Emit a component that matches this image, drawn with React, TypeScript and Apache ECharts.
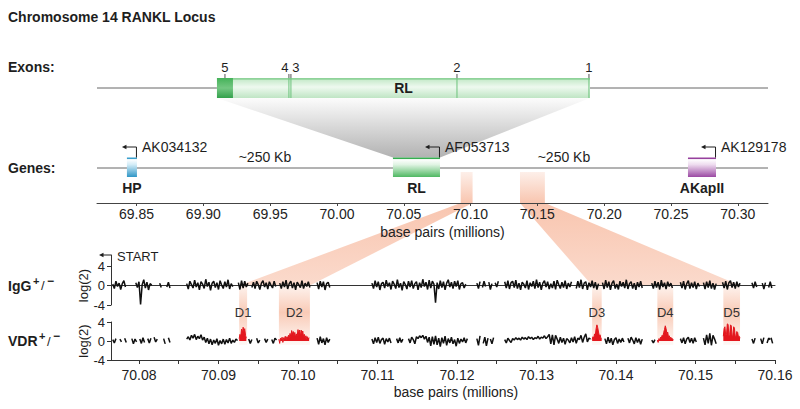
import React, { useEffect, useRef } from 'react';
import * as echarts from 'echarts';

const FONT = '"Liberation Sans", Arial, Helvetica, sans-serif';
const INK = '#1e1e1e';

// ---------- overview (genes) axis, millions of bp ----------
const genomeMin = 69.8204;
const genomeMax = 70.3226;
const genomeTicks = [69.85, 69.9, 69.95, 70.0, 70.05, 70.1, 70.15, 70.2, 70.25, 70.3];

const geneNames = ['HP', 'RL', 'AKapII'];
const geneAccessions = ['AK034132', 'AF053713', 'AK129178'];
const geneStarts = [69.8428, 70.0419, 70.2627];
const geneEnds = [69.8503, 70.0771, 70.2837];
const distanceLabels = ['~250 Kb', '~250 Kb'];

// ---------- exon (zoomed RL transcript) axis ----------
const exonMin = 70.03058;
const exonMax = 70.0939;
const exonNames = ['5', '4', '3', '2', '1'];
const exonStarts = [70.0419, 70.04869, 70.04888, 70.06455, 70.07691];
const exonEnds = [70.04341, 70.04869, 70.04888, 70.06455, 70.0771];

// ---------- ChIP-chip axis ----------
const chipMin = 70.07648;
const chipMax = 70.16;
const chipLabelTicks = [70.08, 70.09, 70.1, 70.11, 70.12, 70.13, 70.14, 70.15, 70.16];
const chipTicks = [70.08, 70.085, 70.09, 70.095, 70.1, 70.105, 70.11, 70.115, 70.12, 70.125, 70.13, 70.135, 70.14, 70.145, 70.15, 70.155, 70.16];
const logTicks = [-4, 0, 4];
const iggMax = 6.3;

const peakNames = ['D1', 'D2', 'D3', 'D4', 'D5'];
const peakStarts = [70.0926, 70.0976, 70.137, 70.1452, 70.1535];
const peakEnds = [70.0936, 70.1015, 70.1382, 70.1472, 70.1556];
const zoomRegions = [[0, 1], [2, 4]]; // first and last peak of each projected region

const probeStep = 0.0002;
const peakStep = 0.0001;

const iggSegments: [number, number[]][] = [
  [70.0767, [0.3, -0.6, 0.9, -0.2, 0.5, -0.8, 0.4, 1.0, -0.3]],
  [70.0796, [0.6, -0.4, 0.8, -3.9, 0.2, 1.2, -0.5, 0.7, -0.9, 0.4, 0.1]],
  [70.0826, [0.5, -0.4]],
  [70.0835, [-0.3, 0.7, -0.5]],
  [70.086, [0.4, -0.7, 0.9, 0.2, -0.5, 1.1, -0.3, 0.6, -0.9, 0.8, 0.3, -0.6, 1.3, -0.2, 0.7, -1.0, 0.5, 0.9, -0.4, 0.6, -0.8, 1.0, 0.1, -0.6, 0.8, -0.3, 1.2, -0.7, 0.4, -0.2]],
  [70.0925, [0.6, -0.8, 1.0, -0.5, 0.9, -0.3, 0.5]],
  [70.0942, [-0.4, 0.7, -0.6, 0.9, 0.2, -0.8, 0.5, 1.0, -0.3, 0.6, -0.7, 0.8, 0.1, -0.5, 0.9, -0.2]],
  [70.0977, [0.5, -0.6, 0.8, -0.3, 1.1, -0.7, 0.4, 0.9, -0.5, 0.6, -0.9, 0.7, 0.2, -0.4, 1.0, -0.6, 0.5, -0.2, 0.8, -0.4]],
  [70.1024, [0.6, -0.7, 0.9, -0.3, 0.8, -0.9, 0.4, 0.7, -0.4]],
  [70.1093, [0.5, -0.6, 1.0, -0.3, 0.8, -0.9, 0.4, 0.7, -0.5, 1.1,
    -0.2, 0.6, -0.8, 0.9, 0.3, -0.6, 1.2, -0.4, 0.5, -1.0,
    0.8, 0.2, -0.7, 0.9, -0.3, 1.0, -0.6, 0.4, 0.8, -0.9,
    0.6, -0.4, 1.3, -0.2, 0.7, -0.8, 1.1, -0.5, 0.9, 0.3,
    -3.5, 0.6, -0.7, 1.0, -0.4, 0.8, -0.9, 0.5, 1.2, -0.3,
    0.7, -0.6, 0.9, -0.2, 1.0, -0.8, 0.4, 0.6, -0.5, 0.3]],
  [70.1225, [0.5, -0.6, 0.8]],
  [70.1232, [-0.4, 0.9, -0.2]],
  [70.124, [0.7, -0.8, 0.4]],
  [70.1248, [0.6, -0.3, 0.9]],
  [70.126, [0.8, -0.5, 1.0, -0.7, 0.6, 0.9, -0.4, 1.1, -0.6, 0.5,
    -0.9, 0.7, 0.3, -0.5, 1.0, -0.8, 0.6, -0.2, 0.9, -0.6,
    1.2, -0.4, 0.7, -0.9, 0.5, 1.0, -0.3, 0.8, -0.7, 0.4,
    -0.5, 0.9, -0.8, 1.1, 0.2, -0.6, 0.7, -0.4, 1.0, -0.7,
    0.5, -0.3, 0.8]],
  [70.135, [-0.6, 0.9, -0.4, 1.2, -0.7, 0.5, 0.8, -0.9, 0.6, -0.3, 1.0, -0.5, 0.7, -0.8, 0.4]],
  [70.1383, [0.6, -0.7, 1.1, -0.4, 0.8, -0.9, 0.5, 1.0, -0.6, 0.3,
    -0.8, 0.9, -0.2, 0.7, -0.5, 1.2, -0.7, 0.4, 0.8, -0.6,
    0.5, -0.9, 0.7, -0.3, 0.9, -0.5]],
  [70.1445, [0.5, -0.6, 0.9, -0.4, 0.7, -0.8, 1.1, -0.3, 0.6, -0.7, 0.8, -0.2, 0.5, -0.5]],
  [70.1481, [0.7, -0.5, 0.9, -0.8, 0.4, 1.0, -0.6, 0.6, -0.4, 0.8, -0.7, 0.5, -0.2]],
  [70.151, [0.6, -0.7, 0.8, -0.4, 1.0, -0.6, 0.5, -0.8, 0.4]],
  [70.1534, [0.7, -0.5, 0.9, -0.8, 0.6, 1.0, -0.4, 0.7, -0.6, 0.8, -0.3, 0.5]],
  [70.1571, [0.6, -0.5, 0.8, -0.3]],
  [70.1584, [0.5, -0.7, 0.6]],
  [70.1592, [-0.4, 0.8, -0.5]],
];

const vdrSegments: [number, number[]][] = [
  [70.0767, [0.3, -0.4, 0.5]],
  [70.0776, [0.4, -0.2]],
  [70.0782, [0.6, -0.3]],
  [70.0791, [0.5, -0.6, 0.4, -0.2]],
  [70.0801, [0.4, -0.5, 0.7, -0.3]],
  [70.0811, [0.5, -0.4, 0.6]],
  [70.0819, [0.8, -0.2, 0.4]],
  [70.0831, [0.5, -0.6]],
  [70.0837, [0.7, -0.3]],
  [70.086, [0.4, 0.9, 0.2, 1.2, 0.6, 1.4, 0.3, 1.0, 0.5, 1.3,
    0.2, 0.8, -0.3, 0.6, -0.6, 0.4, -0.8, 0.2, -0.5, 0.5,
    -0.9, 0.1, -0.6, 0.4, -0.7, 0.3, -0.4, 0.6, -0.5, 0.2,
    -0.3, 0.4, 0.1]],
  [70.0938, [0.4, -0.5, 0.3]],
  [70.0948, [0.6, -0.4, 0.2]],
  [70.0958, [0.5, -0.3, 0.4]],
  [70.0967, [0.3, -0.5, 0.6, 0.2]],
  [70.1024, [0.6, -0.7, 0.9, -0.4, 0.5, -0.8, 0.7, -0.3, 0.4]],
  [70.1093, [0.4, -0.6, 0.7, -0.3, 0.8, -0.5, 0.3, 0.6, -0.7, 0.5, -0.2, 0.6, -0.4]],
  [70.1124, [0.5, -0.4, 0.7, -0.3, 0.4]],
  [70.1139, [0.5, -0.4, 0.8, 0.3, -0.6, 0.9, 0.5, 1.1, 0.7, 1.2,
    0.4, 1.0, -0.3, 0.8, -1.0, 0.9, -0.7, 1.1, -0.8, 0.6,
    -1.2, 0.7, -0.5, 1.0, -0.9, 0.5, -0.4, 0.8, -0.6, 0.3,
    -1.1, 0.6, -0.5, 0.4, -0.2, 0.7, -0.4, 0.5]],
  [70.1225, [0.5, -0.9, 1.1]],
  [70.1233, [-0.5, 0.8, -1.0, 0.6]],
  [70.1242, [0.4, -0.6, 0.7]],
  [70.126, [0.3, -0.4, 0.6, 0.1, -0.3, 0.5, 0.2, 0.7, 0.3, 0.6,
    0.2, 0.8, 0.4, 0.7, 0.3, 0.9, 0.5, 0.8, 0.3, 0.7,
    0.5, 1.0, 0.4, 0.8, 0.6, 1.1, 0.5, 0.9, 1.4, -0.6,
    1.3, -0.8, 1.2, 0.4, -0.5, 0.8, -0.3, 0.6, -0.7, 0.5,
    0.2, -0.4, 0.7, -0.2, 0.9, -0.5, 0.6, 0.3, 1.2, -0.3,
    0.8, 1.5, -0.2, 0.6, 0.4]],
  [70.1386, [0.5, -0.6, 0.8, -0.4, 0.6, -0.8, 0.3, 0.7, -0.5, 0.4, -0.3, 0.6, -0.2]],
  [70.1415, [0.6, -0.4, 0.8, 0.2, -0.6, 0.7, -0.3, 0.5, -0.7, 0.4]],
  [70.1445, [0.2, -0.4, 0.3]],
  [70.1481, [0.5, -0.4, 0.7, -0.6, 0.4, 0.8, -0.3, 0.6, -0.5, 0.7, -0.2]],
  [70.151, [0.6, -0.8, 1.3, -0.5, 1.6, -0.9, 1.2, 0.4, -0.6]],
  [70.1571, [0.4, -0.5, 0.6]],
  [70.1582, [0.5, -0.6, 0.7]],
  [70.159, [-0.4, 0.6, 0.3]],
  [70.1595, [0.7, -0.5]],
];

// VDR enriched peaks (red), one list per peak, starting at peakStarts
const peakValues: number[][] = [
  [0.5, 1.4, 0.9, 2.5, 1.6, 2.9, 2.0, 2.6, 1.2, 0.6],
  [0.4, -0.5, 0.6, 0.2, 0.8, -0.3, 0.7, 0.5, 1.0, 0.3, 0.9, 0.6,
    1.2, 0.7, 1.6, 0.9, 2.2, 1.4, 2.0, 1.1, 1.8, 0.8, 1.5, 1.0,
    2.4, 1.3, 2.3, 1.0, 2.3, 1.5, 2.1, 0.9, 1.4, 0.7, 1.1, 0.5, 0.9, 0.4, 0.7],
  [0.3, 0.9, 0.6, 1.5, 1.2, 2.6, 3.4, 2.8, 1.9, 1.1, 1.3, 0.6, 0.4],
  [0.2, -0.3, 0.5, 0.3, 0.8, 0.6, 1.2, 1.0, 1.8, 2.4, 3.2, 2.6, 1.5, 1.9, 0.9, 1.1, 0.6, 0.8, 0.4, 0.5, 0.2],
  [1.0, 2.6, 3.0, 1.2, 1.4, 3.6, 3.5, 1.1, 1.3, 3.4, 3.2, 1.0, 1.2, 3.0, 2.7, 0.9, 1.1, 2.0, 1.8, 0.9, 1.0, 0.6],
];

// ---------- styles ----------
const geneColors: Record<string, { edge: string; light: string; dark: string }> = {
  HP: { edge: '#3a9fcc', light: '#d3ecf7', dark: '#2f96c6' },
  RL: { edge: '#36ad50', light: '#e0f4e3', dark: '#4fb862' },
  AKapII: { edge: '#96409d', light: '#eedcef', dark: '#9b49a3' },
};
const exonLabelDx: Record<string, number> = { '4': -4, '3': 5 };

const grad = (stops: [number, string][]) =>
  new echarts.graphic.LinearGradient(0, 0, 0, 1, stops.map(([offset, color]) => ({ offset, color })));

const lineSeg = (ax: number, start: number, step: number, vals: number[], color: string, area: boolean) => ({
  type: 'line',
  xAxisIndex: ax,
  yAxisIndex: ax,
  data: vals.map((v, i) => [+(start + i * step).toFixed(5), v]),
  symbol: 'none',
  silent: true,
  z: 6,
  lineStyle: { width: area ? 1 : 1.5, color },
  itemStyle: { color },
  areaStyle: area ? { color, opacity: 1 } : undefined,
});

function buildOption() {
  const series: any[] = [];
  // gene track line & exon track line
  series.push({ type: 'line', xAxisIndex: 0, yAxisIndex: 0, data: [[genomeMin, 0.5], [genomeMax, 0.5]], symbol: 'none', silent: true, z: 4, lineStyle: { width: 1, color: '#666' } });
  series.push({ type: 'line', xAxisIndex: 1, yAxisIndex: 1, data: [[exonMin, 0.5], [exonMax, 0.5]], symbol: 'none', silent: true, z: 4, lineStyle: { width: 1, color: '#666' } });

  // genes
  series.push({
    type: 'custom', xAxisIndex: 0, yAxisIndex: 0, silent: true, z: 7,
    data: geneStarts.map((s, i) => [s, geneEnds[i]]),
    renderItem: (params: any, api: any) => {
      const i = params.dataIndex;
      const a = api.coord([api.value(0), 0.5]);
      const b = api.coord([api.value(1), 0.5]);
      const x0 = a[0], x1 = b[0], cy = a[1], w = x1 - x0;
      const c = geneColors[geneNames[i]];
      return {
        type: 'group', children: [
          { type: 'rect', shape: { x: x0, y: cy - 10.5, width: w, height: 1.8 }, style: { fill: c.edge } },
          { type: 'rect', shape: { x: x0, y: cy - 8.7, width: w, height: 17.7 }, style: { fill: grad([[0, '#ffffff'], [0.3, c.light], [1, c.dark]]) } },
          { type: 'text', x: (x0 + x1) / 2, y: cy + 20, style: { text: geneNames[i], font: `bold 14px ${FONT}`, fill: INK, align: 'center', verticalAlign: 'middle' } },
          { type: 'polyline', shape: { points: [[x1 - 0.5, cy - 10.5], [x1 - 0.5, cy - 21], [x1 - 11, cy - 21]] }, style: { stroke: INK, lineWidth: 1, fill: 'none' } },
          { type: 'polygon', shape: { points: [[x1 - 15, cy - 21], [x1 - 10.5, cy - 23.3], [x1 - 10.5, cy - 18.7]] }, style: { fill: INK } },
          { type: 'text', x: x1 + 5, y: cy - 21, style: { text: geneAccessions[i], font: `14px ${FONT}`, fill: INK, align: 'left', verticalAlign: 'middle' } },
        ],
      };
    },
  });

  // RL transcript box on the exon track
  series.push({
    type: 'custom', xAxisIndex: 1, yAxisIndex: 1, silent: true, z: 6,
    data: [[geneStarts[1], geneEnds[1]]],
    renderItem: (params: any, api: any) => {
      const a = api.coord([api.value(0), 0.5]);
      const b = api.coord([api.value(1), 0.5]);
      const x0 = a[0], x1 = b[0], cy = a[1], w = x1 - x0;
      return {
        type: 'group', children: [
          { type: 'rect', shape: { x: x0, y: cy - 10, width: w, height: 20 }, style: { fill: grad([[0, '#bfe7c4'], [0.45, '#eef9ef'], [1, '#bfe5c4']]) } },
          { type: 'rect', shape: { x: x0, y: cy - 10, width: w, height: 1.8 }, style: { fill: '#8fd39a' } },
          { type: 'text', x: (x0 + x1) / 2, y: cy, style: { text: geneNames[1], font: `bold 14px ${FONT}`, fill: INK, align: 'center', verticalAlign: 'middle' } },
        ],
      };
    },
  });

  // exons
  series.push({
    type: 'custom', xAxisIndex: 1, yAxisIndex: 1, silent: true, z: 7,
    data: exonStarts.map((s, i) => [s, exonEnds[i]]),
    renderItem: (params: any, api: any) => {
      const i = params.dataIndex;
      const a = api.coord([api.value(0), 0.5]);
      const b = api.coord([api.value(1), 0.5]);
      const cy = a[1], w = b[0] - a[0], xm = (a[0] + b[0]) / 2;
      const name = exonNames[i];
      const mark = w > 3
        ? { type: 'rect', shape: { x: a[0], y: cy - 10, width: w, height: 20 }, style: { fill: grad([[0, '#45b259'], [0.5, '#74c782'], [1, '#33a14b']]) } }
        : { type: 'line', shape: { x1: xm, y1: cy - 10, x2: xm, y2: cy + 10 }, style: { stroke: '#6cc27b', lineWidth: 1 } };
      return {
        type: 'group', children: [
          mark,
          { type: 'line', shape: { x1: xm, y1: cy - 14, x2: xm, y2: cy - 10 }, style: { stroke: '#555', lineWidth: 1 } },
          { type: 'text', x: xm + (exonLabelDx[name] || 0), y: cy - 21, style: { text: name, font: `13px ${FONT}`, fill: INK, align: 'center', verticalAlign: 'middle' } },
        ],
      };
    },
  });

  iggSegments.forEach(([s, v]) => series.push(lineSeg(2, s, probeStep, v, '#111', false)));
  vdrSegments.forEach(([s, v]) => series.push(lineSeg(3, s, probeStep, v, '#111', false)));
  peakValues.forEach((v, i) => series.push(lineSeg(3, peakStarts[i], peakStep, v, '#e3171e', true)));

  const axisText = { fontFamily: FONT, color: '#222' };
  return {
    animation: false,
    backgroundColor: '#ffffff',
    textStyle: { fontFamily: FONT },
    grid: [
      { left: 97, width: 671, top: 133, height: 70, outerBoundsMode: 'none' },
      { left: 97, width: 671, top: 60, height: 56, outerBoundsMode: 'none' },
      { left: 111, width: 664, top: 255, height: 50, outerBoundsMode: 'none' },
      { left: 111, width: 664, top: 322, height: 38, outerBoundsMode: 'none' },
    ],
    xAxis: [
      {
        gridIndex: 0, type: 'value', min: genomeMin, max: genomeMax, z: 5,
        axisLine: { onZero: false, lineStyle: { color: '#444', width: 1 } },
        axisTick: { customValues: genomeTicks, length: 3, lineStyle: { color: '#444' } },
        axisLabel: { customValues: genomeTicks, formatter: (v: number) => v.toFixed(2), fontSize: 14, margin: 4, ...axisText },
        splitLine: { show: false },
        name: 'base pairs (millions)', nameLocation: 'middle', nameGap: 22,
        nameTextStyle: { fontSize: 14, padding: [0, 0, 0, 20], ...axisText },
      },
      { gridIndex: 1, type: 'value', min: exonMin, max: exonMax, show: false },
      {
        gridIndex: 2, type: 'value', min: chipMin, max: chipMax, z: 5,
        axisLine: { onZero: true, lineStyle: { color: '#333', width: 1 } },
        axisTick: { show: false }, axisLabel: { show: false }, splitLine: { show: false },
      },
      {
        gridIndex: 3, type: 'value', min: chipMin, max: chipMax, z: 5,
        axisLine: { onZero: false, lineStyle: { color: '#333', width: 1 } },
        axisTick: { customValues: chipTicks, length: 4, lineStyle: { color: '#333' } },
        axisLabel: { customValues: chipLabelTicks, formatter: (v: number) => v.toFixed(2), fontSize: 14, margin: 8, ...axisText },
        splitLine: { show: false },
        name: 'base pairs (millions)', nameLocation: 'middle', nameGap: 25,
        nameTextStyle: { fontSize: 14, padding: [0, 0, 0, 26], ...axisText },
      },
    ],
    yAxis: [
      { gridIndex: 0, type: 'value', min: 0, max: 1, show: false },
      { gridIndex: 1, type: 'value', min: 0, max: 1, show: false },
      {
        gridIndex: 2, type: 'value', min: -4, max: iggMax, z: 5,
        axisLine: { show: true, onZero: false, lineStyle: { color: '#333', width: 1 } },
        axisTick: { show: true, customValues: logTicks, length: 4, lineStyle: { color: '#333' } },
        axisLabel: { customValues: logTicks, fontSize: 13, margin: 6, ...axisText },
        splitLine: { show: false },
      },
      {
        gridIndex: 3, type: 'value', min: -4, max: 4, z: 5,
        axisLine: { show: true, onZero: false, lineStyle: { color: '#333', width: 1 } },
        axisTick: { show: true, customValues: logTicks, length: 4, lineStyle: { color: '#333' } },
        axisLabel: { customValues: logTicks, fontSize: 13, margin: 6, ...axisText },
        splitLine: { show: false },
      },
    ],
    series,
  };
}

function buildGraphics(chart: any) {
  const px = (axis: number, v: number) => chart.convertToPixel({ xAxisIndex: axis }, v) as number;
  const py = (axis: number, v: number) => chart.convertToPixel({ yAxisIndex: axis }, v) as number;
  const yGene = py(0, 0.5);
  const yTopAxis = py(0, 0);
  const yExon = py(1, 0.5);
  const yIgg0 = py(2, 0);
  const yIggTop = py(2, iggMax);
  const yVdr4 = py(3, 4);
  const yVdr0 = py(3, 0);
  const chipLeft = px(2, chipMin);
  const salmon = (a: number) => `rgba(243,150,110,${a})`;
  const els: any[] = [];

  // grey zoom wedge from RL gene to exon diagram
  const rl = 1;
  els.push({
    type: 'polygon', z: 1, silent: true,
    shape: { points: [[px(1, geneStarts[rl]), yExon + 10], [px(1, geneEnds[rl]), yExon + 10], [px(0, geneEnds[rl]), yGene - 10.5], [px(0, geneStarts[rl]), yGene - 10.5]] },
    style: { fill: grad([[0, '#fcfcfc'], [1, '#b2b2b2']]) },
  });

  // projected regions
  zoomRegions.forEach(([a, b]) => {
    const s = peakStarts[a], e = peakEnds[b];
    const gs = px(0, s), ge = px(0, e);
    els.push({ type: 'rect', z: 1, silent: true, shape: { x: gs, y: yGene + 4, width: ge - gs, height: yTopAxis - yGene - 4 }, style: { fill: grad([[0, salmon(0.15)], [1, salmon(0.55)]]) } });
    els.push({
      type: 'polygon', z: 1, silent: true,
      shape: { points: [[gs, yTopAxis], [ge, yTopAxis], [px(2, e), yIgg0], [px(2, s), yIgg0]] },
      style: { fill: grad([[0, salmon(0.55)], [1, salmon(0.35)]]) },
    });
  });

  // peak bands and labels
  peakNames.forEach((n, i) => {
    const s = px(2, peakStarts[i]), e = px(2, peakEnds[i]);
    els.push({ type: 'rect', z: 1, silent: true, shape: { x: s, y: yIgg0, width: e - s, height: yVdr0 + 4 - yIgg0 }, style: { fill: grad([[0, salmon(0.12)], [0.45, salmon(0.5)], [1, salmon(0.06)]]) } });
    els.push({ type: 'text', z: 10, x: (s + e) / 2, y: yVdr4 - 10, style: { text: n, font: `13px ${FONT}`, fill: '#333', align: 'center', verticalAlign: 'middle' } });
  });

  // distance labels between genes
  distanceLabels.forEach((t, i) => {
    const m = (px(0, geneEnds[i]) + px(0, geneStarts[i + 1])) / 2;
    els.push({ type: 'text', z: 10, x: m, y: yGene - 11, style: { text: t, font: `14px ${FONT}`, fill: INK, align: 'center', verticalAlign: 'middle' } });
  });

  // START arrow
  els.push({ type: 'line', z: 10, shape: { x1: chipLeft, y1: yIggTop, x2: chipLeft - 8, y2: yIggTop }, style: { stroke: INK, lineWidth: 1 } });
  els.push({ type: 'polygon', z: 10, shape: { points: [[chipLeft - 12, yIggTop], [chipLeft - 7.5, yIggTop - 2.3], [chipLeft - 7.5, yIggTop + 2.3]] }, style: { fill: INK } });
  els.push({ type: 'text', z: 10, x: chipLeft + 6, y: yIggTop + 1, style: { text: 'START', font: `13px ${FONT}`, fill: INK, align: 'left', verticalAlign: 'middle' } });

  // log(2) axis names
  [yIgg0, yVdr0].forEach((y) => {
    els.push({ type: 'text', z: 10, x: chipLeft - 28, y, rotation: Math.PI / 2, style: { text: 'log(2)', font: `13px ${FONT}`, fill: INK, align: 'center', verticalAlign: 'middle' } });
  });

  // static headings
  const bold = `bold 14px ${FONT}`;
  els.push({ type: 'text', z: 10, x: 8, y: 17, style: { text: 'Chromosome 14 RANKL Locus', font: bold, fill: INK, verticalAlign: 'middle' } });
  els.push({ type: 'text', z: 10, x: 8, y: yExon - 21, style: { text: 'Exons:', font: bold, fill: INK, verticalAlign: 'middle' } });
  els.push({ type: 'text', z: 10, x: 8, y: yGene, style: { text: 'Genes:', font: bold, fill: INK, verticalAlign: 'middle' } });

  // track labels with superscripts
  const trackLabel = (base: string, y: number, w: number) => {
    els.push({ type: 'text', z: 10, x: 8, y, style: { text: base, font: bold, fill: INK, verticalAlign: 'middle' } });
    els.push({ type: 'text', z: 10, x: 8 + w + 1, y: y - 5, style: { text: '+', font: `bold 11px ${FONT}`, fill: INK, verticalAlign: 'middle' } });
    els.push({ type: 'text', z: 10, x: 8 + w + 9, y, style: { text: '/', font: `13px ${FONT}`, fill: INK, verticalAlign: 'middle' } });
    els.push({ type: 'text', z: 10, x: 8 + w + 15, y: y - 5, style: { text: '\u2212', font: `bold 12px ${FONT}`, fill: INK, verticalAlign: 'middle' } });
  };
  trackLabel('IgG', yIgg0, 24);
  trackLabel('VDR', yVdr0, 30);

  return els;
}

export default function App() {
  const ref = useRef<HTMLDivElement>(null);
  useEffect(() => {
    document.body.style.margin = '0';
    const chart = echarts.init(ref.current!, null, { renderer: 'svg' });
    chart.setOption(buildOption() as any);
    chart.setOption({ graphic: { elements: buildGraphics(chart) } } as any);
    return () => chart.dispose();
  }, []);
  return <div ref={ref} style={{ position: 'absolute', left: 0, top: 0, width: 800, height: 409 }} />;
}
